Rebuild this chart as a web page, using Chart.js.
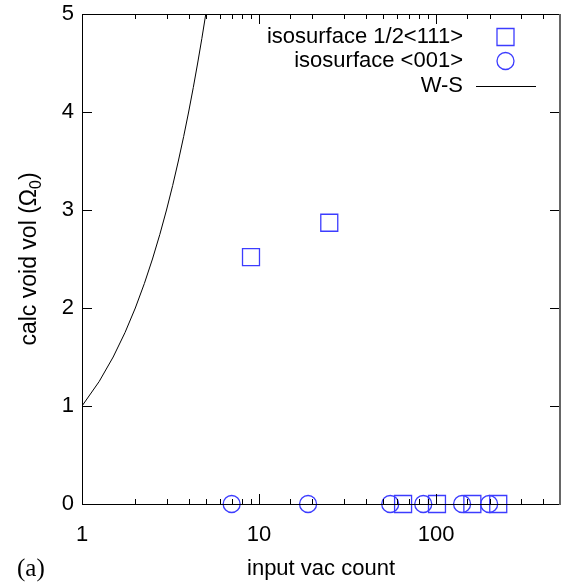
<!DOCTYPE html>
<html>
<head>
<meta charset="utf-8">
<script src="https://cdn.jsdelivr.net/npm/chart.js@4.4.1/dist/chart.umd.min.js"></script>
<style>
  html, body { margin: 0; padding: 0; background: #fff; }
  #wrap { width: 566px; height: 582px; }
</style>
</head>
<body>
<div id="wrap"><canvas id="voidChart"></canvas></div>
<script>
// isosurface 1/2<111>
const sqX = [9.0, 24.9, 65, 101, 160, 224];
const sqY = [2.52, 2.87, 0, 0, 0, 0];
// isosurface <001>
const circX = [7.0, 18.9, 55, 84.5, 140, 199];
const circY = [0, 0, 0, 0, 0, 0];
// W-S
const wsX = [1, 1.25, 1.5, 1.75, 2, 2.25, 2.5, 2.75, 3, 3.25, 3.5, 3.75, 4, 4.25, 4.5, 4.75, 5];
const wsY = [1, 1.25, 1.5, 1.75, 2, 2.25, 2.5, 2.75, 3, 3.25, 3.5, 3.75, 4, 4.25, 4.5, 4.75, 5];
const xLabels = [1, 10, 100];
const yTicks = [0, 1, 2, 3, 4, 5];

const blue = 'rgb(60, 60, 255)';
const sansFont = '"Liberation Sans", Arial, sans-serif';

function toPts(xs, ys) {
    return xs.map((x, i) => ({ x: x, y: ys[i] }));
}

// inward ticks on all four sides, frame, legend and axis titles
const decorations = {
    id: 'decorations',
    afterDraw(chart) {
        const ctx = chart.ctx;
        const a = chart.chartArea;
        const xs = chart.scales.x, ys = chart.scales.y;
        ctx.save();
        ctx.strokeStyle = '#000';
        ctx.lineWidth = 1;
        ctx.beginPath();
        xs.ticks.forEach(t => {
            const px = Math.round(xs.getPixelForValue(t.value)) + 0.5;
            const major = xLabels.includes(t.value);
            const len = major ? 10 : 5;
            ctx.moveTo(px, a.bottom); ctx.lineTo(px, a.bottom - len);
            ctx.moveTo(px, a.top); ctx.lineTo(px, a.top + len);
        });
        yTicks.forEach(v => {
            const py = Math.round(ys.getPixelForValue(v)) + 0.5;
            ctx.moveTo(a.left, py); ctx.lineTo(a.left + 10, py);
            ctx.moveTo(a.right, py); ctx.lineTo(a.right - 10, py);
        });
        // frame top/left/bottom
        ctx.moveTo(a.left + 0.5, a.top + 0.5); ctx.lineTo(a.right, a.top + 0.5);
        ctx.moveTo(a.left + 0.5, a.top); ctx.lineTo(a.left + 0.5, a.bottom);
        ctx.moveTo(a.left, a.bottom + 0.5); ctx.lineTo(a.right, a.bottom + 0.5);
        ctx.stroke();
        ctx.strokeStyle = '#666';
        ctx.lineWidth = 2;
        ctx.beginPath();
        ctx.moveTo(a.right, a.top); ctx.lineTo(a.right, a.bottom + 1);
        ctx.stroke();

        // legend: text right aligned, sample on the right
        ctx.font = '22px ' + sansFont;
        ctx.fillStyle = '#000';
        ctx.textAlign = 'right';
        ctx.textBaseline = 'middle';
        const rows = [37, 61, 86];
        chart.data.datasets.forEach((ds, i) => {
            const y = rows[i];
            ctx.fillText(ds.label, 463, y);
            ctx.strokeStyle = ds.borderColor;
            ctx.lineWidth = ds.pointBorderWidth || 1;
            ctx.beginPath();
            if (ds.pointStyle === 'rect') {
                ctx.rect(497, y - 8.5, 17, 17);
            } else if (ds.pointStyle === 'circle') {
                ctx.arc(505.5, y, 8.5, 0, Math.PI * 2);
            } else {
                ctx.lineWidth = 1;
                ctx.moveTo(476, y + 0.5); ctx.lineTo(536, y + 0.5);
            }
            ctx.stroke();
        });

        // x title
        ctx.textAlign = 'center';
        ctx.textBaseline = 'alphabetic';
        ctx.fillStyle = '#000';
        ctx.fillText('input vac count', (a.left + a.right) / 2, 575);

        // y title with subscript
        ctx.save();
        ctx.translate(36, (a.top + a.bottom) / 2);
        ctx.rotate(-Math.PI / 2);
        const main = 'calc void vol (Ω';
        const sub = '0';
        const close = ')';
        ctx.font = '23px ' + sansFont;
        const w1 = ctx.measureText(main).width;
        const w3 = ctx.measureText(close).width;
        ctx.font = '16px ' + sansFont;
        const w2 = ctx.measureText(sub).width;
        const total = w1 + w2 + w3;
        let x0 = -total / 2;
        ctx.textAlign = 'left';
        ctx.font = '23px ' + sansFont;
        ctx.fillText(main, x0, 0);
        ctx.font = '16px ' + sansFont;
        ctx.fillText(sub, x0 + w1, 5);
        ctx.font = '23px ' + sansFont;
        ctx.fillText(close, x0 + w1 + w2, 0);
        ctx.restore();

        // panel tag
        ctx.font = '25px "Liberation Serif", "Times New Roman", serif';
        ctx.textAlign = 'left';
        ctx.fillText('(a)', 17, 576);
        ctx.restore();
    }
};

const chart = new Chart(document.getElementById('voidChart'), {
    type: 'scatter',
    data: {
        datasets: [
            {
                label: 'isosurface 1/2<111>',
                data: toPts(sqX, sqY),
                pointStyle: 'rect',
                pointRadius: 12,
                pointBorderWidth: 1.3,
                borderColor: blue,
                backgroundColor: 'rgba(0,0,0,0)',
                clip: false
            },
            {
                label: 'isosurface <001>',
                data: toPts(circX, circY),
                pointStyle: 'circle',
                pointRadius: 8.5,
                pointBorderWidth: 1.3,
                borderColor: blue,
                backgroundColor: 'rgba(0,0,0,0)',
                clip: false
            },
            {
                label: 'W-S',
                type: 'line',
                data: toPts(wsX, wsY),
                borderColor: '#000',
                borderWidth: 1,
                pointRadius: 0,
                tension: 0,
                fill: false
            }
        ]
    },
    options: {
        responsive: true,
        maintainAspectRatio: false,
        animation: false,
        layout: { autoPadding: false, padding: { top: 14, right: 6, left: 0, bottom: 0 } },
        plugins: {
            legend: { display: false },
            tooltip: { enabled: false }
        },
        scales: {
            x: {
                type: 'logarithmic',
                min: 1,
                max: 500,
                grid: { display: false },
                border: { display: false },
                ticks: {
                    autoSkip: false,
                    maxRotation: 0,
                    padding: 10,
                    color: '#000',
                    font: { family: sansFont, size: 22 },
                    callback: v => xLabels.includes(v) ? String(v) : ''
                },
                afterFit: s => { s.height = 78; s.paddingLeft = 0; s.paddingRight = 0; }
            },
            y: {
                min: 0,
                max: 5,
                grid: { display: false },
                border: { display: false },
                ticks: {
                    stepSize: 1,
                    padding: 0,
                    color: '#000',
                    font: { family: sansFont, size: 22 }
                },
                afterFit: s => { s.width = 82; s.paddingTop = 0; s.paddingBottom = 0; }
            }
        }
    },
    plugins: [decorations]
});
</script>
</body>
</html>
